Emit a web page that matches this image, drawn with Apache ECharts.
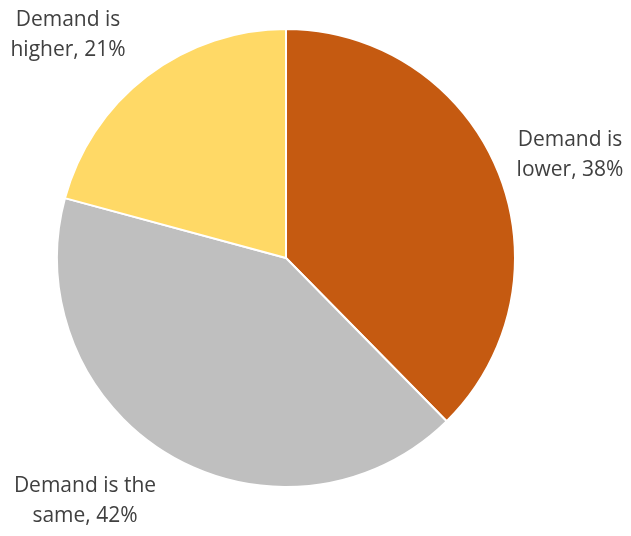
<!DOCTYPE html>
<html>
<head>
<meta charset="utf-8">
<script src="https://cdn.jsdelivr.net/npm/echarts@6/dist/echarts.min.js"></script>
<style>
  html, body { margin: 0; padding: 0; background: #fff; }
  #chart { width: 631px; height: 536px; }
</style>
</head>
<body>
<div id="chart"></div>
<script>
const categories = ['Demand is lower', 'Demand is the same', 'Demand is higher'];
const values = [38, 42, 21];
const labelTexts = ['Demand is\nlower, 38%', 'Demand is the\nsame, 42%', 'Demand is\nhigher, 21%'];
const colors = ['#C55A11', '#BFBFBF', '#FFD966'];
// label centers (px)
const labelPos = [[570, 155], [85, 501], [68, 35]];

let chart = echarts.init(document.getElementById('chart'));
chart.setOption({
    animation: false,
    series: [
        {
            type: 'pie',
            center: [286, 258],
            radius: 229,
            startAngle: 90,
            clockwise: true,
            itemStyle: {
                borderColor: '#fff',
                borderWidth: 2
            },
            label: {
                show: true,
                position: 'outside',
                alignTo: 'none',
                overflow: 'none',
                formatter: (p)=> labelTexts[p.dataIndex],
                color: '#404040',
                fontFamily: 'Open Sans',
                fontSize: 21,
                lineHeight: 30,
                align: 'center'
            },
            labelLine: { show: false },
            labelLayout: (params)=>{
                const pos = labelPos[params.dataIndex];
                return {
                    x: pos[0],
                    y: pos[1],
                    align: 'center',
                    verticalAlign: 'middle'
                };
            },
            data: categories.map((name, i)=>({
                name,
                value: values[i],
                itemStyle: { color: colors[i] }
            }))
        }
    ]
});
</script>
</body>
</html>
